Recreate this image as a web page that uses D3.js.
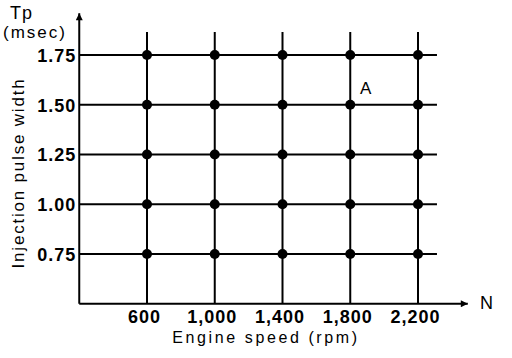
<!DOCTYPE html>
<html><head><meta charset="utf-8">
<script src="https://cdn.jsdelivr.net/npm/d3@7"></script>
<style>
body{margin:0;background:#fff;}
text{font-family:"Liberation Sans",Arial,sans-serif;fill:#000;}
</style></head>
<body><svg id="c" width="512" height="358"></svg>
<script>
const speeds = [600, 1000, 1400, 1800, 2200];
const speedLabels = ["600", "1,000", "1,400", "1,800", "2,200"];
const pulses = [0.75, 1.00, 1.25, 1.50, 1.75];
const pulseLabels = ["0.75", "1.00", "1.25", "1.50", "1.75"];
const points = [];
speeds.forEach(s => pulses.forEach(p => points.push({s, p})));

const svg = d3.select("#c");
const x = d3.scaleLinear().domain([600, 2200]).range([147, 418]);
const y = d3.scaleLinear().domain([0.75, 1.75]).range([254, 55]);

const xMin = 200, xGridEnd = 2312, xArrow = 2494;
const yMin = 0.5, yGridTop = 1.865, yArrow = 1.96;

const g = svg.append("g");
g.selectAll(".h").data(pulses).join("line")
  .attr("x1", x(xMin)).attr("x2", x(xGridEnd))
  .attr("y1", d => y(d)).attr("y2", d => y(d))
  .attr("stroke", "#000").attr("stroke-width", 2);
g.selectAll(".v").data(speeds).join("line")
  .attr("x1", d => x(d)).attr("x2", d => x(d))
  .attr("y1", y(yMin)).attr("y2", y(yGridTop))
  .attr("stroke", "#000").attr("stroke-width", 2);

svg.append("defs").append("marker").attr("id", "arr2")
  .attr("viewBox", "0 0 10 10").attr("refX", 10).attr("refY", 5)
  .attr("markerWidth", 21).attr("markerHeight", 7).attr("markerUnits", "userSpaceOnUse")
  .attr("orient", "auto")
  .append("path").attr("d", "M0,0L10,5L0,10Z").attr("fill", "#000");

svg.append("line").attr("x1", x(xMin)).attr("x2", x(xArrow))
  .attr("y1", y(yMin)).attr("y2", y(yMin))
  .attr("stroke", "#000").attr("stroke-width", 2).attr("marker-end", "url(#arr2)");
svg.append("line").attr("x1", x(xMin)).attr("x2", x(xMin))
  .attr("y1", y(yMin)).attr("y2", y(yArrow))
  .attr("stroke", "#000").attr("stroke-width", 2).attr("marker-end", "url(#arr2)");

svg.selectAll(".dot").data(points).join("circle")
  .attr("cx", d => x(d.s)).attr("cy", d => y(d.p)).attr("r", 5).attr("fill", "#000");

const yAxis = d3.axisLeft(y).tickValues(pulses).tickSize(0).tickPadding(0)
  .tickFormat((d, i) => pulseLabels[i]);
const ya = svg.append("g").attr("transform", `translate(${x(xMin) - 3},0)`).call(yAxis);
ya.select(".domain").remove();
ya.selectAll("text").attr("font-size", 18).attr("font-weight", "bold")
  .attr("letter-spacing", "1px").attr("dy", "0.35em")
  .style("font-family", '"Liberation Sans",Arial,sans-serif').attr("fill", "#000");

const xAxis = d3.axisBottom(x).tickValues(speeds).tickSize(0).tickPadding(0)
  .tickFormat((d, i) => speedLabels[i]);
const xa = svg.append("g").attr("transform", `translate(-3,${y(yMin) + 6})`).call(xAxis);
xa.select(".domain").remove();
xa.selectAll("text").attr("font-size", 18).attr("font-weight", "bold")
  .attr("letter-spacing", "1px").attr("dy", "0.75em")
  .style("font-family", '"Liberation Sans",Arial,sans-serif').attr("fill", "#000");

svg.append("text").attr("x", 266).attr("y", 343).attr("text-anchor", "middle")
  .attr("font-size", 16).attr("letter-spacing", "2.6px").text("Engine speed (rpm)");
svg.append("text").attr("transform", "translate(24,173) rotate(-90)").attr("text-anchor", "middle")
  .attr("font-size", 17).attr("letter-spacing", "1.8px").text("Injection pulse width");
svg.append("text").attr("x", 10).attr("y", 19).attr("font-size", 18).attr("letter-spacing", "1px").text("Tp");
svg.append("text").attr("x", 3).attr("y", 38).attr("font-size", 17).attr("letter-spacing", "2px").text("(msec)");
svg.append("text").attr("x", 480).attr("y", 309).attr("font-size", 18).text("N");
svg.append("text").attr("x", 360).attr("y", 94).attr("font-size", 17).text("A");
</script></body></html>
